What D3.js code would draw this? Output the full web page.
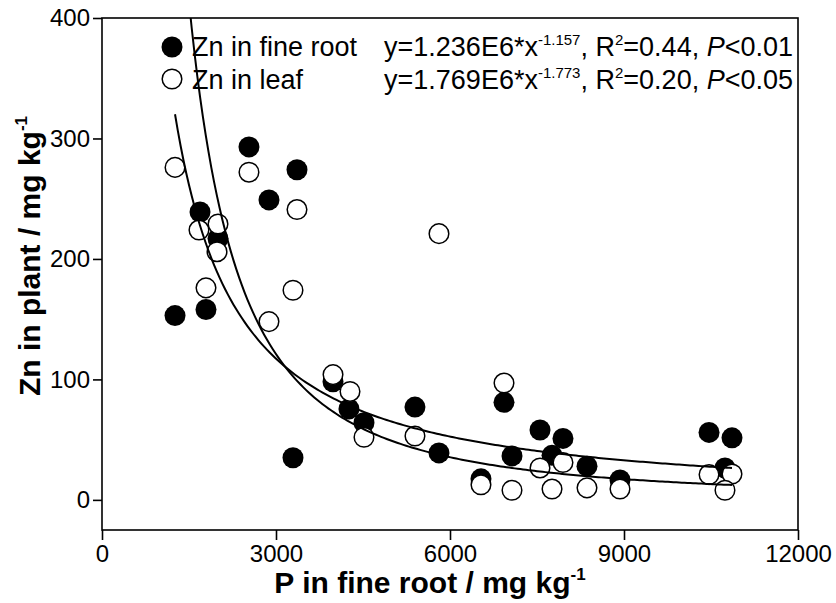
<!DOCTYPE html>
<html lang="en">
<head>
<meta charset="utf-8">
<title>Zn in plant vs P in fine root</title>
<script src="https://d3js.org/d3.v7.min.js"></script>
<style>
  body { margin: 0; background: #fff; }
  svg { display: block; font-family: "Liberation Sans", Arial, sans-serif; }
</style>
</head>
<body>
<svg id="chart" width="836" height="603"></svg>
<script>
// Zn in fine root (filled circles)
const rootP  = [1259, 1690, 1793, 2000, 2534, 2879, 3362, 3293, 3983, 4258, 4517, 5396,
                5810, 6931, 6534, 7069, 7552, 7948, 7759, 8362, 8931, 10466, 10862, 10741];
const rootZn = [153, 239, 158, 217, 293, 249, 274, 35, 98, 75.5, 64, 77,
                39, 81, 17.5, 36.5, 58, 51, 37, 28, 16.6, 56, 51.5, 26.5];

// Zn in leaf (open circles)
const leafP  = [1259, 2534, 3362, 1672, 2000, 1983, 1793, 3293, 2879, 5810, 3983, 4276,
                4517, 5396, 6931, 6534, 7069, 7552, 7948, 7759, 8362, 8931, 10466, 10862, 10741];
const leafZn = [276, 272, 241, 224, 229, 206, 176, 174, 148, 221, 104, 90,
                52, 53, 97, 12.5, 8, 26.5, 31, 9, 10, 9, 21, 21.5, 8];

const xTicks = [0, 3000, 6000, 9000, 12000];
const yTicks = [0, 100, 200, 300, 400];

// power fits y = a * x^b (leaf legend says E6 but the drawn curve follows E8)
const rootFit = { a: 1.236e6, b: -1.157 };
const leafFit = { a: 1.769e8, b: -1.773 };

const svg = d3.select("#chart");
const plotL = 102, plotR = 798, plotT = 18, plotB = 530;

const x = d3.scaleLinear().domain([0, 12000]).range([plotL, plotR]);
const y = d3.scaleLinear().domain([-25, 400]).range([plotB, plotT]);

svg.append("defs").append("clipPath").attr("id", "plotclip")
  .append("rect").attr("x", plotL).attr("y", plotT)
  .attr("width", plotR - plotL).attr("height", plotB - plotT);

// frame
svg.append("rect")
  .attr("x", plotL).attr("y", plotT)
  .attr("width", plotR - plotL).attr("height", plotB - plotT)
  .attr("fill", "none").attr("stroke", "#000").attr("stroke-width", 1.6);

// axes
const xAxis = svg.append("g")
  .attr("transform", `translate(0,${plotB})`)
  .call(d3.axisBottom(x).tickValues(xTicks).tickSize(10).tickSizeOuter(0).tickPadding(5).tickFormat(d3.format("d")));
const yAxis = svg.append("g")
  .attr("transform", `translate(${plotL},0)`)
  .call(d3.axisLeft(y).tickValues(yTicks).tickSize(9).tickSizeOuter(0).tickPadding(3).tickFormat(d3.format("d")));

[xAxis, yAxis].forEach(g => {
  g.select(".domain").remove();
  g.selectAll("line").attr("stroke", "#000").attr("stroke-width", 1.6);
  g.selectAll("text").attr("fill", "#000").attr("font-size", 24)
    .attr("font-family", "'Liberation Sans', Arial, sans-serif");
});

// points
svg.append("g").selectAll("circle")
  .data(rootP.map((p, i) => [p, rootZn[i]]))
  .join("circle")
  .attr("cx", d => x(d[0])).attr("cy", d => y(d[1])).attr("r", 10.5)
  .attr("fill", "#000");

svg.append("g").selectAll("circle")
  .data(leafP.map((p, i) => [p, leafZn[i]]))
  .join("circle")
  .attr("cx", d => x(d[0])).attr("cy", d => y(d[1])).attr("r", 9.8)
  .attr("fill", "#fff").attr("stroke", "#000").attr("stroke-width", 1.5);

// fitted curves
function fitLine(fit, xs) {
  const lo = d3.min(xs), hi = d3.max(xs);
  const pts = d3.range(0, 201).map(i => {
    const px = lo + (hi - lo) * i / 200;
    return [px, fit.a * Math.pow(px, fit.b)];
  });
  svg.append("path")
    .datum(pts)
    .attr("clip-path", "url(#plotclip)")
    .attr("fill", "none").attr("stroke", "#000").attr("stroke-width", 2)
    .attr("d", d3.line().x(d => x(d[0])).y(d => y(Math.min(d[1], 440))));
}
fitLine(rootFit, rootP);
fitLine(leafFit, leafP);

// legend
const legend = svg.append("g").attr("font-size", 27).attr("fill", "#000");
legend.append("circle").attr("cx", 172).attr("cy", 47).attr("r", 10.5).attr("fill", "#000");
legend.append("circle").attr("cx", 172).attr("cy", 79).attr("r", 9.8)
  .attr("fill", "#fff").attr("stroke", "#000").attr("stroke-width", 1.5);
legend.append("text").attr("x", 192).attr("y", 56).text("Zn in fine root");
legend.append("text").attr("x", 192).attr("y", 89).text("Zn in leaf");

function richText(g, tx, ty, parts) {
  const t = g.append("text").attr("x", tx).attr("y", ty).attr("text-anchor", "end");
  let up = false;
  parts.forEach(p => {
    const s = t.append("tspan").text(p.t);
    if (p.sup && !up) { s.attr("dy", -11); up = true; }
    else if (!p.sup && up) { s.attr("dy", 11); up = false; }
    if (p.sup) s.attr("font-size", 15);
    if (p.it) s.attr("font-style", "italic");
  });
  return t;
}
richText(legend, 793, 56, [
  { t: "y=1.236E6*x" }, { t: "-1.157", sup: true }, { t: ", R" }, { t: "2", sup: true },
  { t: "=0.44, " }, { t: "P", it: true }, { t: "<0.01" }
]);
richText(legend, 793, 89, [
  { t: "y=1.769E6*x" }, { t: "-1.773", sup: true }, { t: ", R" }, { t: "2", sup: true },
  { t: "=0.20, " }, { t: "P", it: true }, { t: "<0.05" }
]);

// axis titles
const xt = svg.append("text").attr("x", 430).attr("y", 593)
  .attr("text-anchor", "middle").attr("font-size", 30).attr("font-weight", "bold");
xt.append("tspan").text("P in fine root / mg kg");
xt.append("tspan").attr("dy", -13).attr("font-size", 17).text("-1");

const yt = svg.append("text")
  .attr("transform", "translate(40,256) rotate(-90)")
  .attr("text-anchor", "middle").attr("font-size", 30).attr("font-weight", "bold");
yt.append("tspan").text("Zn in plant / mg kg");
yt.append("tspan").attr("dy", -13).attr("font-size", 17).text("-1");
</script>
</body>
</html>
